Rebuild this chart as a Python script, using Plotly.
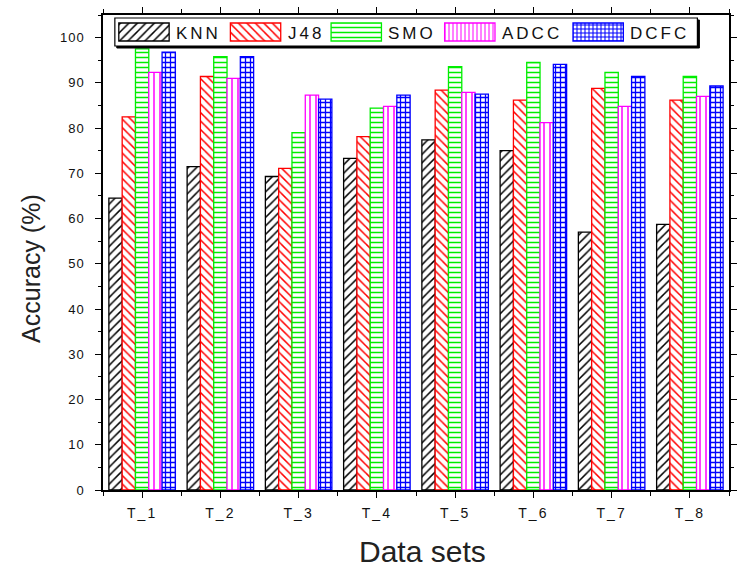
import plotly.graph_objects as go

# Accuracy (%) of each classifier on the eight data sets
datasets = ["T_1", "T_2", "T_3", "T_4", "T_5", "T_6", "T_7", "T_8"]
knn  = [64.5, 71.5, 69.3, 73.3, 77.4, 75.0, 57.0, 58.7]
j48  = [82.5, 91.4, 71.1, 78.1, 88.4, 86.2, 88.8, 86.2]
smo  = [97.5, 95.8, 79.0, 84.4, 93.6, 94.5, 92.3, 91.4]
adcc = [92.3, 91.0, 87.3, 84.8, 87.9, 81.2, 84.8, 87.0]
dcfc = [96.8, 95.8, 86.4, 87.3, 87.5, 94.1, 91.4, 89.3]
methods = ["KNN", "J48", "SMO", "ADCC", "DCFC"]
y_ticks = [0, 10, 20, 30, 40, 50, 60, 70, 80, 90, 100]

series = [knn, j48, smo, adcc, dcfc]
colors = ["#000000", "#ff0000", "#00ee00", "#ff00ff", "#0000ff"]
shapes_ = ["/", "\\", "-", "|", "+"]
psizes = [6, 6, 5, 6, 5]
solid = [0.25, 0.25, 0.3, 0.25, 0.45]

W, H = 743, 571
L, R, T, B = 103, 6, 15, 81
FONT = "Liberation Sans, Arial, sans-serif"

xpos = [i + 1 for i in range(len(datasets))]


def spaced(s, px):
    return '<span style="letter-spacing:%dpx">%s</span>' % (px, s)


fig = go.Figure()
for name, vals, c, sh, ps, so in zip(methods, series, colors, shapes_, psizes, solid):
    fig.add_trace(go.Bar(
        x=xpos, y=vals, name=name, showlegend=False,
        marker=dict(color="white",
                    line=dict(color=c, width=1.3),
                    pattern=dict(shape=sh, fgcolor=c, bgcolor="white",
                                 size=ps, solidity=so, fillmode="replace")),
        xaxis="x", yaxis="y",
    ))

# Legend drawn in a pixel-scaled overlay axis so the swatches can be large
box = (115, 18, 705, 46)
sw_left = [119, 232, 334, 449, 579]
sw_w, sw_top, sw_h = 51, 23, 18
fig.add_trace(go.Bar(
    x=[l + sw_w / 2 for l in sw_left], y=[sw_h] * 5, base=[sw_top] * 5,
    width=[sw_w] * 5, showlegend=False, hoverinfo="skip",
    marker=dict(color="white", line=dict(color=colors, width=1.3),
                pattern=dict(shape=shapes_, fgcolor=colors, bgcolor="white",
                             size=[6, 6, 5, 4, 4], solidity=solid,
                             fillmode="replace")),
    xaxis="x2", yaxis="y2",
))

fig.add_shape(type="rect", xref="x2", yref="y2", layer="below",
              x0=box[0] + 2, y0=box[1] + 2, x1=box[2] + 2, y1=box[3] + 2,
              line=dict(color="black", width=1), fillcolor="black")
fig.add_shape(type="rect", xref="x2", yref="y2", layer="below",
              x0=box[0], y0=box[1], x1=box[2], y1=box[3],
              line=dict(color="black", width=1.2), fillcolor="white")
for name, l in zip(methods, sw_left):
    fig.add_annotation(x=l + sw_w + 5, y=(box[1] + box[3]) / 2 + 1,
                       xref="x2", yref="y2", text=spaced(name, 3),
                       showarrow=False, xanchor="left", yanchor="middle",
                       font=dict(family=FONT, size=17, color="#111"))

axis_common = dict(showline=True, linecolor="black", linewidth=1.5,
                   mirror="allticks", ticks="outside", tickcolor="black",
                   tickwidth=1, showgrid=False, zeroline=False)

fig.update_layout(
    width=W, height=H,
    margin=dict(l=L, r=R, t=T, b=B, pad=0),
    paper_bgcolor="white", plot_bgcolor="rgba(0,0,0,0)",
    barmode="group", bargap=0.15, bargroupgap=0,
    xaxis=dict(range=[0.5, len(datasets) + 0.5], tickmode="array",
               tickvals=xpos, ticktext=[spaced(d, 2) for d in datasets],
               ticklen=6,
               minor=dict(ticks="outside", ticklen=4, tickcolor="black",
                          tickvals=[p + 0.5 for p in [0] + xpos]),
               tickfont=dict(family=FONT, size=14, color="#111"),
               ticklabelstandoff=3, **axis_common),
    yaxis=dict(range=[0, 105], tickmode="array", tickvals=y_ticks,
               ticktext=[spaced(str(v), 1) for v in y_ticks], ticklen=6,
               minor=dict(ticks="outside", ticklen=3, tickcolor="black",
                          tickvals=[v + 5 for v in y_ticks]),
               tickfont=dict(family=FONT, size=13, color="#111"),
               ticklabelstandoff=8, **axis_common),
    xaxis2=dict(domain=[0, 1], anchor="y2", range=[L, W - R], visible=False,
                fixedrange=True),
    yaxis2=dict(domain=[0, 1], anchor="x2", range=[H - B, T], visible=False,
                fixedrange=True),
    showlegend=False,
)

plot_w, plot_h = W - L - R, H - T - B
fig.add_annotation(text="Accuracy (%)", textangle=-90, showarrow=False,
                   xref="paper", yref="paper",
                   x=(30 - L) / plot_w, y=(H - B - 268) / plot_h,
                   xanchor="center", yanchor="middle",
                   font=dict(family=FONT, size=25, color="#222"))
fig.add_annotation(text="Data sets", showarrow=False,
                   xref="paper", yref="paper",
                   x=(427 - L) / plot_w, y=-(551 - (H - B)) / plot_h,
                   xanchor="center", yanchor="middle",
                   font=dict(family=FONT, size=30, color="#222"))

fig.write_html("out.html")
